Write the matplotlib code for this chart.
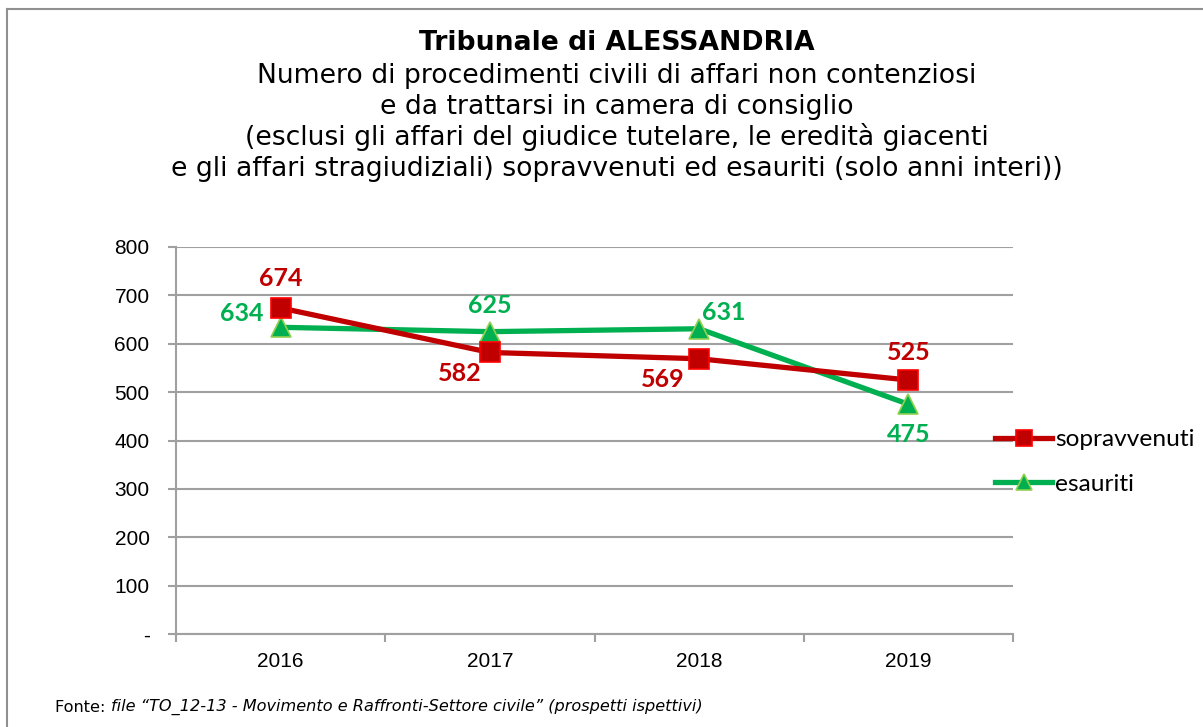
import numpy as np
import matplotlib
matplotlib.use("Agg")
import matplotlib.pyplot as plt
from matplotlib.lines import Line2D
from matplotlib.ticker import FixedLocator

anni = ["2016", "2017", "2018", "2019"]
sopravvenuti = [674, 582, 569, 525]
esauriti = [634, 625, 631, 475]
yticks = [0, 100, 200, 300, 400, 500, 600, 700, 800]
ylabels = ["-", "100", "200", "300", "400", "500", "600", "700", "800"]

rosso = "#C00000"
verde = "#00B050"
grigio = "#A0A0A0"

fig = plt.figure(figsize=(12.03, 7.27), dpi=100)
ax = fig.add_axes([176/1203, 1-634/727, (1013-176)/1203, (634-247)/727])

x = np.arange(len(anni))
ax.plot(x, sopravvenuti, color=rosso, lw=3.8, marker="s", ms=14,
        mfc=rosso, mec="#FF0000", mew=1.2, label="sopravvenuti", zorder=4)
ax.plot(x, esauriti, color=verde, lw=3.8, marker="^", ms=14,
        mfc=verde, mec="#92D050", mew=1.2, label="esauriti", zorder=3)

# etichette dati (offset in pixel)
lab = dict(fontsize=18, fontweight="bold", family="Lato")
off_s = [(0, 29, "center"), (-8, -21, "right"), (-15, -21, "right"), (0, 28, "center")]
off_e = [(-17, 14, "right"), (0, 26, "center"), (3, 16, "left"), (0, -30, "center")]
for i in range(len(anni)):
    dx, dy, ha = off_s[i]
    ax.annotate(str(sopravvenuti[i]), (x[i], sopravvenuti[i]), xytext=(dx, dy),
                textcoords="offset pixels", ha=ha, va="center", color=rosso, **lab)
    dx, dy, ha = off_e[i]
    ax.annotate(str(esauriti[i]), (x[i], esauriti[i]), xytext=(dx, dy),
                textcoords="offset pixels", ha=ha, va="center", color=verde, **lab)

ax.set_xlim(-0.5, 3.5)
ax.set_ylim(0, 800)
ax.set_yticks(yticks)
ax.set_yticklabels(ylabels, fontsize=15, family="Liberation Sans")
ax.set_xticks(x)
ax.set_xticklabels(anni, fontsize=15, family="Liberation Sans")
ax.xaxis.set_minor_locator(FixedLocator([-0.5, 0.5, 1.5, 2.5, 3.5]))
ax.tick_params(axis="x", which="major", length=0, pad=13)
ax.tick_params(axis="x", which="minor", length=6, color=grigio, width=1.5)
ax.tick_params(axis="y", length=6, color=grigio, width=1.5, pad=13)
ax.grid(axis="y", color=grigio, lw=1.5)
ax.set_axisbelow(True)
for s in ["top", "right"]:
    ax.spines[s].set_visible(False)
for s in ["left", "bottom"]:
    ax.spines[s].set_color(grigio)
    ax.spines[s].set_linewidth(1.5)

fig.legend(*ax.get_legend_handles_labels(), loc="center left",
           bbox_to_anchor=(995/1203, 1-462/727), frameon=False,
           prop={"family": "Lato", "size": 17.6}, handlelength=2.35,
           labelspacing=0.95, handletextpad=0.12, markerscale=0.85,
           borderpad=0, borderaxespad=0)

# titolo
fig.text(617/1203, 1-50/727, "Tribunale di ALESSANDRIA", ha="center", va="baseline",
         fontsize=19.2, fontweight="bold")
sottotitolo = ["Numero di procedimenti civili di affari non contenziosi",
               "e da trattarsi in camera di consiglio",
               "(esclusi gli affari del giudice tutelare, le eredità giacenti",
               "e gli affari stragiudiziali) sopravvenuti ed esauriti (solo anni interi))"]
for i, riga in enumerate(sottotitolo):
    fig.text(617/1203, 1-(83 + 31*i)/727, riga, ha="center", va="baseline", fontsize=19.2)

fig.text(55/1203, 1-707/727, "Fonte: ", ha="left", va="center", fontsize=11.6)
fig.text(111/1203, 1-707/727,
         "file \u201cTO_12-13 - Movimento e Raffronti-Settore civile\u201d (prospetti ispettivi)",
         ha="left", va="center", fontsize=11.6, style="italic")

# cornice
fig.add_artist(Line2D([7/1203, 7/1203], [0, 1-9/727], transform=fig.transFigure,
                      color="#909090", lw=1.5))
fig.add_artist(Line2D([7/1203, 1], [1-9/727, 1-9/727], transform=fig.transFigure,
                      color="#909090", lw=1.5))

fig.savefig("out.png", dpi=100)
